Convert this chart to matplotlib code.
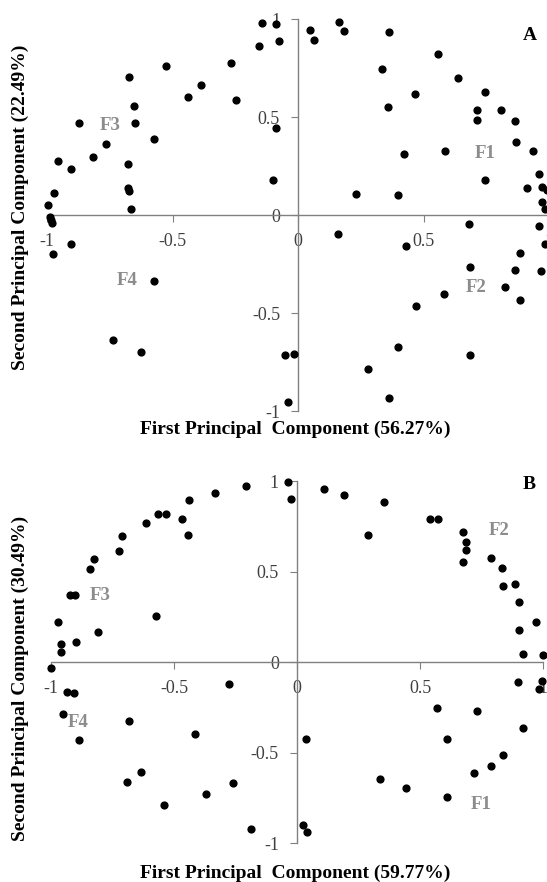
import matplotlib.pyplot as plt
import numpy as np

plt.rcParams['font.family'] = ['Liberation Serif', 'DejaVu Serif']

# Panel A loadings (PC1, PC2)
a_x = [-0.142, -0.089, -0.155, -0.078, -0.527, -0.268, -0.673, -0.388, -0.438, -0.247,
       -0.652, -0.874, -0.648, -0.089, -0.575, -0.765, -0.817, -0.957, -0.904, -0.678,
       -0.677, -0.673, -0.100, -0.973, -0.997, -0.667, -0.990, -0.985, -0.980, -0.903,
       -0.977, -0.575, -0.736, -0.625, -0.054, -0.016, -0.039,
       0.047, 0.064, 0.163, 0.182, 0.360, 0.558, 0.335, 0.635, 0.466, 0.745,
       0.357, 0.714, 0.809, 0.714, 0.865, 0.869, 0.422, 0.586, 0.936, 0.959,
       0.745, 0.911, 0.971, 0.991, 0.230, 0.396, 0.971, 0.985,
       0.679, 0.158, 0.959, 0.430, 0.985, 0.882, 0.685, 0.865, 0.967, 0.825,
       0.582, 0.884, 0.469, 0.396, 0.685, 0.280, 0.360]
a_y = [0.983, 0.978, 0.864, 0.889, 0.760, 0.779, 0.708, 0.667, 0.602, 0.588,
       0.560, 0.471, 0.471, 0.447, 0.391, 0.364, 0.299, 0.279, 0.238, 0.262,
       0.139, 0.126, 0.182, 0.112, 0.053, 0.032, -0.010, -0.025, -0.038, -0.145,
       -0.196, -0.335, -0.639, -0.700, -0.714, -0.709, -0.952,
       0.947, 0.895, 0.988, 0.942, 0.937, 0.825, 0.745, 0.699, 0.619, 0.629,
       0.554, 0.539, 0.536, 0.488, 0.480, 0.376, 0.311, 0.330, 0.330, 0.209,
       0.180, 0.139, 0.144, 0.128, 0.107, 0.102, 0.065, 0.034,
       -0.043, -0.094, -0.056, -0.155, -0.145, -0.192, -0.267, -0.281, -0.284, -0.369,
       -0.403, -0.434, -0.464, -0.673, -0.714, -0.786, -0.934]

# Panel B loadings (PC1, PC2)
b_x = [-0.035, -0.024, -0.206, -0.332, -0.439, -0.564, -0.534, -0.613, -0.467, -0.444,
       -0.713, -0.725, -0.824, -0.840, -0.921, -0.904, -0.572, -0.973, -0.809, -0.898,
       -0.959, -0.959, -1.000,
       -0.276, -0.936, -0.908, -0.951, -0.684, -0.416, -0.885, -0.634, -0.691, -0.261,
       -0.370, -0.541, -0.188,
       0.110, 0.190, 0.354, 0.290, 0.541, 0.572, 0.675, 0.688, 0.688, 0.676,
       0.790, 0.832, 0.836, 0.885, 0.904, 0.972, 0.904, 0.920, 0.999,
       0.900, 0.995, 0.985, 0.569, 0.730, 0.920, 0.035, 0.611, 0.837, 0.787,
       0.721, 0.336, 0.444, 0.611, 0.023, 0.039]
b_y = [0.993, 0.902, 0.972, 0.932, 0.897, 0.818, 0.818, 0.770, 0.792, 0.700,
       0.694, 0.615, 0.569, 0.512, 0.368, 0.372, 0.256, 0.221, 0.166, 0.110,
       0.101, 0.057, -0.033,
       -0.122, -0.168, -0.173, -0.289, -0.324, -0.396, -0.431, -0.608, -0.663, -0.669,
       -0.729, -0.788, -0.921,
       0.954, 0.925, 0.884, 0.700, 0.790, 0.790, 0.720, 0.665, 0.619, 0.551,
       0.575, 0.519, 0.418, 0.433, 0.331, 0.221, 0.175, 0.044, 0.041,
       -0.109, -0.105, -0.147, -0.254, -0.273, -0.365, -0.425, -0.425, -0.512, -0.576,
       -0.613, -0.648, -0.698, -0.744, -0.901, -0.941]

ticks = [-1, -0.5, 0, 0.5, 1]
tick_labels = ['-1', '-0.5', '0', '0.5', '1']

a_groups = {'F1': (0.745, 0.316), 'F2': (0.708, -0.369), 'F3': (-0.75, 0.46), 'F4': (-0.68, -0.335)}
b_groups = {'F1': (0.748, -0.785), 'F2': (0.822, 0.725), 'F3': (-0.80, 0.37), 'F4': (-0.89, -0.333)}

fig = plt.figure(figsize=(5.47, 8.82), dpi=100)


def draw_panel(rect, xs, ys, groups, letter, letter_pos, pct1, pct2, xlab_y, ylab_y):
    ax = fig.add_axes(rect)
    ax.set_xlim(-1, 1)
    ax.set_ylim(-1, 1)
    for side in ['top', 'right']:
        ax.spines[side].set_visible(False)
    for side in ['left', 'bottom']:
        ax.spines[side].set_position('zero')
        ax.spines[side].set_color('#808080')
        ax.spines[side].set_linewidth(1.0)
    ax.set_xticks(ticks)
    ax.set_xticklabels(tick_labels)
    ax.set_yticks(ticks)
    ax.set_yticklabels(tick_labels)
    ax.tick_params(direction='out', length=5, color='#808080', labelsize=13,
                   labelcolor='#404040', pad=8)
    ax.patch.set_alpha(0)
    ax.scatter(xs, ys, s=24, color='black', zorder=3, clip_on=False)
    for name, (gx, gy) in groups.items():
        ax.text(gx, gy, name, color='#8c8c8c', fontsize=13.5, fontweight='bold',
                ha='center', va='center')
    ax.text(letter_pos[0], letter_pos[1], letter, fontsize=14, fontweight='bold',
            ha='center', va='center')
    fig.text(0.54, xlab_y, 'First Principal  Component (%s)' % pct1, fontsize=14,
             fontweight='bold', ha='center', va='center')
    fig.text(0.037, ylab_y, 'Second Principal Component (%s)' % pct2, fontsize=14,
             fontweight='bold', ha='center', va='center', rotation=90)
    return ax


draw_panel([0.086, 0.534, 0.918, 0.444], a_x, a_y, a_groups, 'A', (0.924, 0.918),
           '56.27%', '22.49%', 1 - 429 / 882, 1 - 207 / 882)
draw_panel([0.0932, 0.0442, 0.8995, 0.4104], b_x, b_y, b_groups, 'B', (0.944, 0.983),
           '59.77%', '30.49%', 1 - 873 / 882, 1 - 678 / 882)

fig.savefig('out.png', dpi=100)
